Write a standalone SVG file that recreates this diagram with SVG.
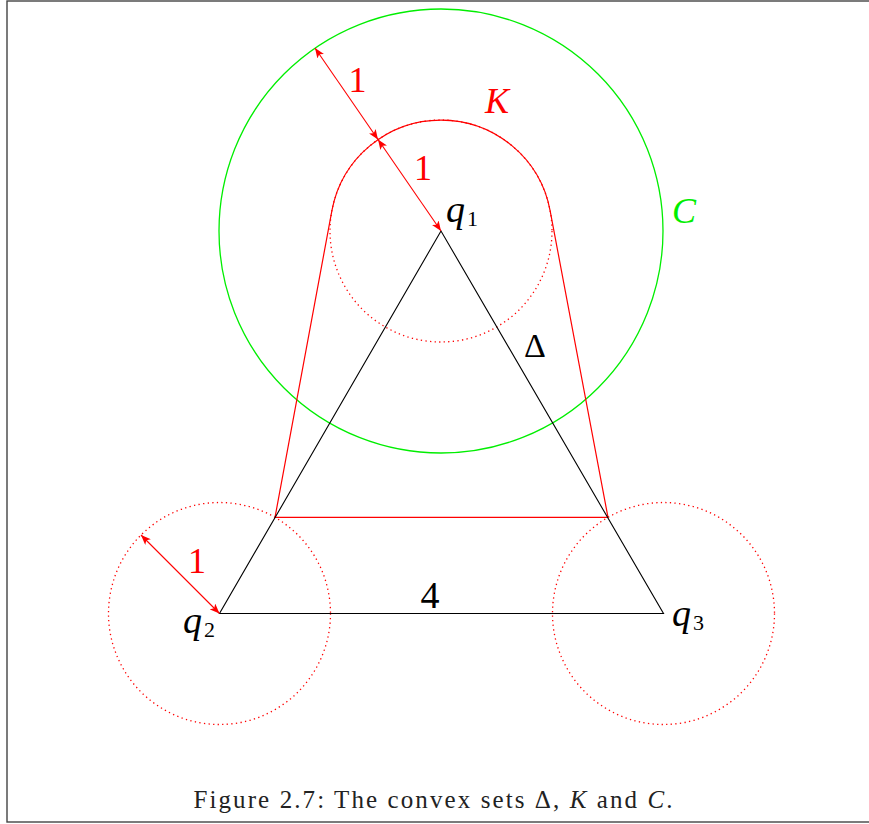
<svg xmlns="http://www.w3.org/2000/svg" width="869" height="824" viewBox="0 0 869 824">
<style>
.frame{fill:none;stroke:#444;stroke-width:1.4}
.tri{fill:none;stroke:#000;stroke-width:1.1;stroke-linejoin:miter}
.k{fill:none;stroke:#ff0000;stroke-width:1.2;stroke-linejoin:round}
.dot{fill:none;stroke:#ff0000;stroke-width:1.3;stroke-dasharray:1.3 3.3}
.cc{fill:none;stroke:#00ee00;stroke-width:1.3}
.arr{fill:none;stroke:#ff0000;stroke-width:1.1}
.math{font-style:italic}
.red{fill:#ff0000}
.green{fill:#00ee00}
.blk{fill:#000}
</style>
<defs>
<marker id="ah" viewBox="0 0 10 8" refX="10" refY="4" markerWidth="10" markerHeight="8" markerUnits="userSpaceOnUse" orient="auto-start-reverse">
<path d="M0,0 L10,4 L0,8 L2.5,4 Z" fill="#ff0000"/>
</marker>
</defs>
<rect class="frame" x="7" y="1" width="870" height="821"/>
<g font-family="'Liberation Serif', 'Times New Roman', Tinos, 'DejaVu Serif', 'Noto Serif', FreeSerif, serif">
<g id="C">
<circle class="cc" cx="441" cy="231" r="222"/>
<text class="math green" x="672" y="223" font-size="36">C</text>
</g>
<g id="disks">
<circle class="dot" cx="441" cy="231" r="111"/>
<circle class="dot" cx="219.5" cy="613.5" r="111"/>
<circle class="dot" cx="663.5" cy="613.5" r="111"/>
</g>
<g id="K">
<path class="k" d="M331.9,210.6 A111,111 0 0 1 550.1,210.6 L608,517.4 L275,517.4 Z"/>
<text class="math red" x="485" y="113" font-size="36">K</text>
</g>
<g id="Delta">
<path class="tri" d="M441,231 L219.5,613.5 L663.5,613.5 Z"/>
<text class="blk" x="524" y="357" font-size="34">Δ</text>
<text class="blk" x="430" y="608" font-size="38" text-anchor="middle">4</text>
</g>
<g id="q1">
<text class="math blk" x="446" y="222" font-size="38">q</text>
<text class="blk" x="467" y="226" font-size="22">1</text>
</g>
<g id="q2">
<text class="math blk" x="183" y="633" font-size="38">q</text>
<text class="blk" x="204" y="637" font-size="22">2</text>
</g>
<g id="q3">
<text class="math blk" x="672" y="626" font-size="38">q</text>
<text class="blk" x="693" y="630" font-size="22">3</text>
</g>
<g id="connectors">
<line class="arr" x1="315" y1="48" x2="378" y2="139.5" marker-start="url(#ah)" marker-end="url(#ah)"/>
<line class="arr" x1="378" y1="139.5" x2="441" y2="231" marker-start="url(#ah)" marker-end="url(#ah)"/>
<line class="arr" x1="141" y1="535" x2="219.5" y2="613.5" marker-start="url(#ah)" marker-end="url(#ah)"/>
<text class="red" x="357.5" y="92" font-size="36" text-anchor="middle">1</text>
<text class="red" x="423" y="180" font-size="36" text-anchor="middle">1</text>
<text class="red" x="197" y="573" font-size="36" text-anchor="middle">1</text>
</g>
<text x="433" y="808" font-size="25" fill="#222" text-anchor="middle" textLength="479" lengthAdjust="spacing">Figure 2.7: The convex sets Δ, <tspan font-style="italic">K</tspan> and <tspan font-style="italic">C</tspan>.</text>
</g>
</svg>
